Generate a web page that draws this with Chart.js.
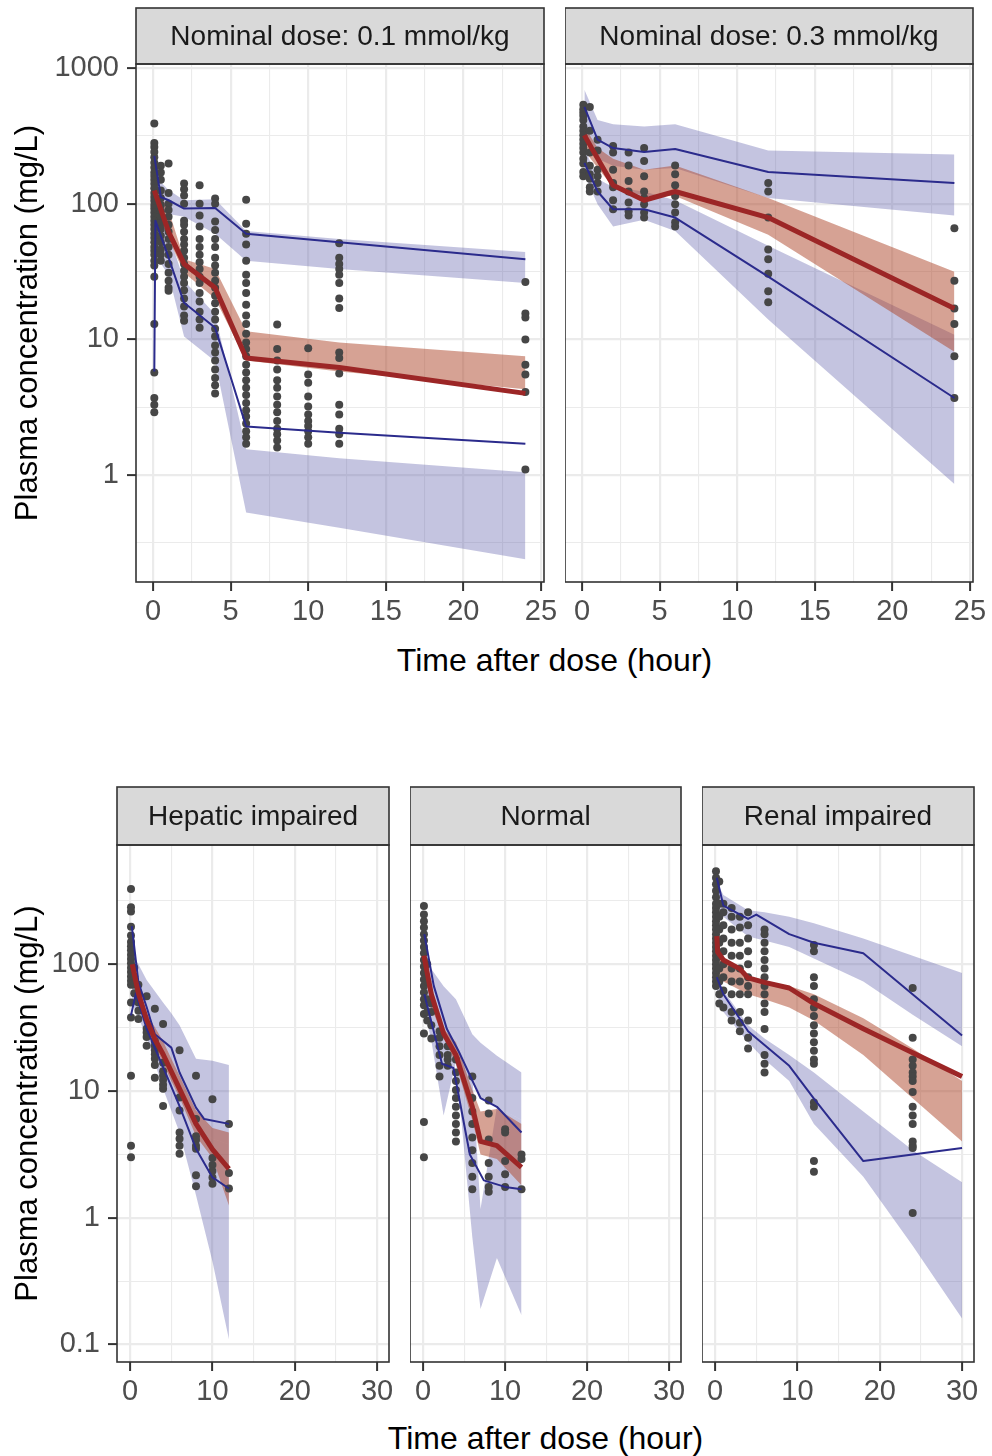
<!DOCTYPE html>
<html>
<head>
<meta charset="utf-8">
<title>VPC plasma concentration</title>
<script src="https://cdn.jsdelivr.net/npm/chart.js@4.4.1/dist/chart.umd.min.js"></script>
<style>
  html, body { margin: 0; padding: 0; background: #ffffff; }
  body { position: relative; width: 992px; height: 1456px; overflow: hidden; font-family: "Liberation Sans", Arial, sans-serif; }
  canvas { position: absolute; }
  .xtitle { position: absolute; text-align: center; font-size: 32px; line-height: 36px; color: #000; white-space: nowrap; }
</style>
</head>
<body>
<div class="xtitle" style="left:136px;width:837px;top:642px;">Time after dose (hour)</div>
<div class="xtitle" style="left:117px;width:857px;top:1420px;">Time after dose (hour)</div>
<script>
// ------------------- Axis ticks -------------------
const xTicksTop = [0, 2.5, 5, 7.5, 10, 12.5, 15, 17.5, 20, 22.5, 25];
const xMajorTop = [0, 5, 10, 15, 20, 25];
const yTicksTop = [0.316, 1, 3.16, 10, 31.6, 100, 316, 1000];
const yMajorTop = [1, 10, 100, 1000];

const xTicksBottom = [0, 5, 10, 15, 20, 25, 30];
const xMajorBottom = [0, 10, 20, 30];
const yTicksBottom = [0.1, 0.316, 1, 3.16, 10, 31.6, 100, 316];
const yMajorBottom = [0.1, 1, 10, 100];

// ------------------- Nominal dose 0.1 mmol/kg -------------------
const obsTimeA = [0.08, 0.5, 1, 2, 3, 4, 6, 8, 10, 12, 24];
const obsConcA = [
  [390, 280, 262, 240, 220, 200, 185, 170, 160, 150, 140, 130, 120, 112, 105, 98, 92, 86, 80, 75, 70, 65, 60, 56, 52, 48, 45, 42, 38, 35, 29, 13, 5.7, 3.7, 3.3, 2.9],
  [190, 170, 150, 125, 110, 98, 88, 80, 72, 65, 58, 52, 46, 42, 38],
  [198, 120, 100, 90, 80, 70, 62, 55, 48, 42, 36, 31, 27, 24, 22.8],
  [141, 128, 115, 100, 75, 70, 62, 55, 50, 45, 40, 36, 32, 29, 26, 23, 20, 17.5, 15, 13.7],
  [137, 100, 82, 68, 55, 48, 42, 37, 33, 29, 26, 22, 19, 16, 14, 12.2],
  [109, 100, 74, 64, 55, 48, 40, 35, 31, 27, 24, 21, 18.5, 16, 14, 12, 10.5, 9, 8, 7, 6, 5.2, 4.6, 4.0],
  [107, 71, 60, 50, 38, 30, 26, 22, 18, 15, 13, 11, 9.5, 8.5, 7.5, 6.5, 5.7, 5, 4.4, 3.9, 3.4, 3, 2.7, 2.4, 2.1, 1.9, 1.7],
  [12.9, 8.5, 7.0, 6.0, 5.0, 4.4, 3.8, 3.3, 2.9, 2.5, 2.2, 2.0, 1.8, 1.6],
  [8.6, 5.5, 4.8, 3.8, 3.2, 2.8, 2.5, 2.3, 2.1, 1.9, 1.7],
  [51, 40, 36, 33, 30, 26, 20, 17, 8.0, 7.3, 5.6, 3.3, 2.8, 2.2, 2.0, 1.7],
  [26.5, 15.5, 14.5, 10, 6.5, 5.5, 4.1, 1.1]
];
const hiTimeA = [0.08, 0.5, 1, 2, 4, 6, 12, 24];
const hiA = [225, 112, 106, 92, 93, 60, 52, 39];
const medTimeA = [0.08, 1, 2, 4, 6, 12, 24];
const medA = [125, 62, 36, 24, 7.3, 6.2, 4.0];
const loTimeA = [0.08, 0.15, 1, 2, 4, 6, 12, 24];
const loA = [5.8, 75, 40, 18.6, 12.2, 2.28, 2.05, 1.7];
const bandTimeA = [0.1, 1, 2, 4, 6, 12, 24];
const hiTopA = [160, 126, 106, 108, 63, 55, 44];
const hiBotA = [95, 84, 80, 60, 38, 33, 26];
const medTopA = [140, 90, 39, 33, 11.5, 9.5, 7.5];
const medBotA = [105, 55, 31, 20, 7.0, 5.8, 4.3];
const loTopA = [90, 60, 27, 15.3, 1.55, 1.33, 1.05];
const loBotA = [42, 30, 10.5, 6.9, 0.53, 0.41, 0.24];

// ------------------- Nominal dose 0.3 mmol/kg -------------------
const obsTimeB = [0.08, 0.5, 1, 2, 3, 4, 6, 12, 24];
const obsConcB = [
  [535, 497, 469, 445, 414, 371, 345, 320, 297, 276, 257, 238, 214, 198, 171, 159],
  [516, 345, 238, 190, 165, 153, 132, 123],
  [296, 247, 178, 159, 142, 123],
  [266, 238, 178, 142, 132, 106, 91],
  [238, 191, 147, 123, 102, 88, 82],
  [257, 206, 159, 123, 110, 99, 86, 79],
  [191, 165, 137, 114, 99, 86, 73, 68],
  [142, 123, 79, 46, 39, 30.5, 22.6, 18.8],
  [66, 27, 16.9, 13, 7.5, 3.7]
];
const hiTimeB = [0.15, 1, 2, 4, 6, 12, 24];
const hiB = [516, 296, 257, 240, 253, 171, 142];
const medTimeB = [0.15, 0.7, 2, 4, 6, 12, 24];
const medB = [320, 247, 137, 106, 123, 79, 16.9];
const loTimeB = [0.15, 1, 2, 4, 6, 12, 24];
const loB = [200, 123, 91, 91, 79, 29, 3.7];
const bandTimeB = [0.15, 1, 2, 4, 6, 12, 24];
const hiTopB = [692, 414, 385, 371, 385, 247, 230];
const hiBotB = [345, 214, 190, 178, 183, 110, 82];
const medTopB = [371, 257, 214, 178, 191, 110, 31.5];
const medBotB = [247, 184, 132, 114, 114, 59, 8.1];
const loTopB = [257, 153, 132, 123, 106, 49, 10.8];
const loBotB = [165, 99, 68, 76, 63, 14, 0.86];

// ------------------- Hepatic impaired -------------------
const obsTimeC = [0.1, 0.5, 1, 2, 3, 4, 6, 8, 10, 12];
const obsConcC = [
  [393, 282, 261, 198, 169, 150, 139, 129, 119, 110, 102, 94, 87, 80, 74, 69, 50, 38, 13.2, 3.7, 3.0],
  [94, 80, 69, 59],
  [69, 59, 54, 50, 43, 37],
  [56, 31, 29, 26.7, 22.8],
  [44.5, 24.7, 22.8, 21, 19.5, 18, 16, 12.7],
  [33.8, 16.7, 14.3, 13.2, 12.2, 11.2, 10.4, 7.6],
  [21, 8.9, 7.0, 4.7, 4.2, 3.7, 3.2],
  [13.2, 6.0, 4.4, 4.1, 3.7, 3.5, 2.16, 1.77],
  [8.6, 2.96, 2.6, 2.34, 2.08, 1.85],
  [5.5, 2.25, 1.7]
];
const hiTimeC = [0.2, 1, 2, 3, 5, 6, 8, 9, 12];
const hiC = [200, 72, 46, 28, 22, 14, 7.4, 6.0, 5.5];
const medTimeC = [0.25, 1, 2, 3, 4, 6, 8, 10, 12];
const medC = [100, 59, 36.6, 25.6, 19.5, 10.4, 5.5, 3.46, 2.43];
const loTimeC = [0.1, 0.7, 2, 4, 6, 8, 10, 12];
const loC = [39.5, 59, 31, 15.4, 7.6, 3.5, 2.08, 1.7];
const bandTimeC = [0.2, 1, 2, 4, 5, 6, 8, 10, 12];
const hiTopC = [125, 100, 75, 50, 41, 33, 18, 17.3, 16];
const hiBotC = [75, 52, 34, 20, 15, 10, 5.5, 4.2, 3.8];
const medTopC = [110, 66, 41, 24.7, 18, 13.2, 7.0, 5.1, 4.7];
const medBotC = [87, 52, 31, 16.6, 12, 8.9, 4.4, 2.96, 1.25];
const loTopC = [75, 52, 34, 20, 15, 10, 5.5, 4.2, 3.8];
const loBotC = [50, 38, 26.7, 10.4, 7, 4.7, 1.5, 0.45, 0.11];

// ------------------- Normal -------------------
const obsTimeD = [0.1, 0.5, 1, 2, 3, 4, 6, 8, 10, 12];
const obsConcD = [
  [289, 247, 219, 195, 173, 154, 137, 122, 108, 96, 85.5, 76, 67.5, 60, 53, 47.5, 40.5, 28.4, 5.7, 3.0],
  [100, 73, 53, 42, 36],
  [49, 42, 33, 26],
  [29.6, 26.3, 22.5, 19.2, 15.8, 13],
  [22.5, 19.2, 17.7, 15.8],
  [17.7, 14, 12, 10.2, 8.8, 7.5, 6.4, 5.5, 4.7, 4.0],
  [13, 8.8, 6.9, 5.5, 4.3, 3.4, 2.7, 2.1, 1.68],
  [8.4, 6.65, 4.15, 2.7, 2.1, 1.75, 1.6],
  [5.0, 4.7, 2.8, 2.2, 1.75],
  [3.15, 2.9, 1.68]
];
const hiTimeD = [0.15, 1.3, 2.9, 4.3, 7, 9, 12];
const hiD = [173, 67.5, 30.8, 20.8, 8.8, 7.5, 4.7];
const medTimeD = [0.1, 1, 2.5, 4, 6, 7, 9, 12];
const medD = [117, 58, 28.4, 19.2, 7.5, 4.0, 3.7, 2.5];
const loTimeD = [0.15, 2.3, 3.7, 5.7, 7.4, 10, 12];
const loD = [58, 16.4, 15.2, 3.15, 1.97, 1.75, 1.68];
const bandTimeD = [0.1, 1, 2.5, 4, 6, 7, 9, 12];
const hiTopD = [100, 92, 67, 53, 28, 24, 19, 14];
const hiBotD = [73, 58, 33, 26, 13, 8.8, 7.5, 5.9];
const medTopD = [127, 67.5, 31, 24.3, 10.2, 6.9, 7.2, 5.5];
const medBotD = [100, 45.6, 26.3, 16.4, 5.9, 3.15, 2.9, 1.8];
const loTopD = [73, 58, 33, 26, 13, 1.17, 7.5, 5.9];
const loBotD = [45, 25, 6.4, 17, 0.7, 0.19, 0.48, 0.17];

// ------------------- Renal impaired -------------------
const obsTimeE = [0.1, 0.5, 1, 2, 3, 4, 6, 12, 24];
const obsConcE = [
  [542, 482, 428, 380, 338, 301, 278, 257, 237, 219, 203, 188, 173, 160, 148, 137, 127, 117, 108, 100, 92.5, 85.5, 79, 73, 67.5],
  [450, 301, 237, 188, 148, 117, 92.5, 73, 58, 49],
  [301, 257, 203, 160, 127, 100, 79, 62, 45.6],
  [278, 237, 188, 148, 117, 92.5, 73, 58, 42, 36],
  [237, 195, 148, 117, 92.5, 73, 58, 42, 34.6, 29.6],
  [257, 203, 160, 127, 100, 79, 67.5, 58, 36, 26.3, 21.6],
  [188, 173, 148, 127, 108, 92.5, 79, 67.5, 58, 49, 42, 30.8, 19.2, 16.4, 14],
  [142, 127, 79, 67.5, 53, 45.6, 39, 33, 28.4, 24.3, 20.8, 17.7, 16.4, 8.1, 7.5, 2.8, 2.3],
  [65, 26.3, 17.7, 15.8, 14, 13, 12, 9.8, 7.5, 6.4, 5.5, 4.0, 3.7, 3.55, 1.09]
];
const hiTimeE = [0.2, 1, 4, 5, 9, 12, 18, 30];
const hiE = [482, 290, 228, 247, 173, 148, 122, 27.4];
const medTimeE = [0.2, 0.3, 1, 3, 4, 6, 9, 12, 18, 24, 30];
const medE = [167, 125, 108, 92, 78, 72, 65, 49, 31, 20, 13];
const loTimeE = [0.2, 1, 4, 9, 12, 18, 30];
const loE = [79, 58, 29.6, 15.8, 8.7, 2.8, 3.55];
const bandTimeE = [0.2, 1, 4, 6, 9, 12, 18, 24, 30];
const hiTopE = [445, 352, 267, 257, 237, 211, 160, 117, 85.5];
const hiBotE = [301, 237, 166, 154, 137, 111, 73, 40, 22.5];
const medTopE = [148, 108, 82, 73, 67.5, 58, 37.5, 21.6, 12];
const medBotE = [85.5, 73, 58, 53, 45.6, 36, 19.2, 8.75, 4.0];
const loTopE = [85, 62, 33, 26, 19.2, 14, 6.9, 3.4, 1.9];
const loBotE = [58, 42, 24.3, 17.7, 12, 5.5, 2.1, 0.6, 0.16];

// ------------------- Styles -------------------
const BLUE_FILL = "rgba(86, 86, 166, 0.35)";
const RED_FILL = "rgba(173, 69, 41, 0.5)";
const BLUE_LINE = "#2b2b8c";
const RED_LINE = "#9c2626";
const POINT_COLOR = "#464646";
const GRID_COLOR = "#ebebeb";
const FRAME_COLOR = "#333333";

Chart.defaults.font.family = '"Liberation Sans", Arial, Helvetica, sans-serif';

// strip on top of each panel + the panel border
const panelFrame = {
  id: "panelFrame",
  afterDraw(chart, args, opts) {
    const { ctx, chartArea: a } = chart;
    const w = a.right - a.left;
    ctx.save();
    ctx.fillStyle = "#d9d9d9";
    ctx.fillRect(a.left, a.top - opts.stripH, w, opts.stripH);
    ctx.strokeStyle = FRAME_COLOR;
    ctx.lineWidth = 1.6;
    ctx.strokeRect(a.left, a.top - opts.stripH, w, opts.stripH);
    ctx.strokeRect(a.left, a.top, w, a.bottom - a.top);
    ctx.fillStyle = "#1a1a1a";
    ctx.font = '28px "Liberation Sans", Arial, sans-serif';
    ctx.textAlign = "center";
    ctx.textBaseline = "middle";
    ctx.fillText(opts.label, a.left + w / 2, a.top - opts.stripH / 2 + 1);
    ctx.restore();
  }
};

// ------------------- Helper Functions -------------------
function xy(times, vals) {
  return times.map((t, i) => ({ x: t, y: vals[i] }));
}

function obsXY(times, groups) {
  const out = [];
  times.forEach((t, i) => groups[i].forEach((v) => out.push({ x: t, y: v })));
  return out;
}

function band(times, top, bot, color, order) {
  return [
    { data: xy(times, top), fill: "+1", backgroundColor: color, borderColor: "transparent", borderWidth: 0, pointRadius: 0, order: order },
    { data: xy(times, bot), fill: false, borderColor: "transparent", borderWidth: 0, pointRadius: 0, order: order }
  ];
}

function line(times, vals, color, width, order) {
  return { data: xy(times, vals), borderColor: color, borderWidth: width, pointRadius: 0, fill: false, tension: 0, borderJoinStyle: "round", order: order };
}

function buildSets(d) {
  return [
    ...band(d.bandT, d.hiTop, d.hiBot, BLUE_FILL, 6),
    ...band(d.bandT, d.loTop, d.loBot, BLUE_FILL, 5),
    ...band(d.bandT, d.medTop, d.medBot, RED_FILL, 4),
    { type: "scatter", data: obsXY(d.obsT, d.obsC), pointRadius: 4, pointBackgroundColor: POINT_COLOR, pointBorderWidth: 0, showLine: false, order: 3 },
    line(d.hiT, d.hi, BLUE_LINE, 2, 2),
    line(d.loT, d.lo, BLUE_LINE, 2, 2),
    line(d.medT, d.med, RED_LINE, 5, 1)
  ];
}

function renderPanel(p) {
  const xAxisH = 50;
  const padR = 18;
  const padT = p.row.stripH + 6;
  const canvas = document.createElement("canvas");
  const left = p.area.l - p.yW;
  const top = p.area.t - padT;
  canvas.width = p.area.r + padR - left;
  canvas.height = p.area.b + xAxisH - top;
  canvas.style.left = left + "px";
  canvas.style.top = top + "px";
  document.body.appendChild(canvas);

  const r = p.row;
  const showY = p.yW > 0;
  new Chart(canvas, {
    type: "line",
    data: { datasets: buildSets(p.d) },
    options: {
      responsive: false,
      animation: false,
      events: [],
      layout: { autoPadding: false, padding: { top: padT, right: padR, left: 0, bottom: 0 } },
      plugins: {
        legend: { display: false },
        tooltip: { enabled: false },
        panelFrame: { label: p.label, stripH: r.stripH }
      },
      scales: {
        x: {
          type: "linear",
          min: r.xMin,
          max: r.xMax,
          afterBuildTicks: (s) => { s.ticks = r.xTicks.map((v) => ({ value: v })); },
          afterFit: (s) => { s.height = xAxisH; },
          ticks: {
            autoSkip: false, maxRotation: 0, minRotation: 0, padding: 4,
            color: "#4d4d4d", font: { size: 29 },
            callback: (v) => (r.xMajor.includes(v) ? String(v) : "")
          },
          grid: {
            color: GRID_COLOR,
            lineWidth: (c) => (c.tick && r.xMajor.includes(c.tick.value) ? 2.2 : 1.1),
            tickLength: 9,
            tickWidth: 2,
            tickColor: (c) => (c.tick && r.xMajor.includes(c.tick.value) ? FRAME_COLOR : "rgba(0,0,0,0)")
          },
          border: { display: false }
        },
        y: {
          type: "logarithmic",
          min: r.yMin,
          max: r.yMax,
          afterBuildTicks: (s) => { s.ticks = r.yTicks.map((v) => ({ value: v })); },
          afterFit: (s) => { s.width = p.yW; },
          ticks: {
            display: showY, autoSkip: false, padding: 8,
            color: "#4d4d4d", font: { size: 29 },
            callback: (v) => (r.yMajor.includes(v) ? String(v) : "")
          },
          grid: {
            color: GRID_COLOR,
            lineWidth: (c) => (c.tick && r.yMajor.includes(c.tick.value) ? 2.2 : 1.1),
            drawTicks: showY,
            tickLength: 9,
            tickWidth: 2,
            tickColor: (c) => (c.tick && r.yMajor.includes(c.tick.value) ? FRAME_COLOR : "rgba(0,0,0,0)")
          },
          border: { display: false },
          title: {
            display: showY,
            text: "Plasma concentration (mg/L)",
            color: "#000000",
            font: { size: 31 },
            padding: { top: 10, bottom: 0 }
          }
        }
      }
    },
    plugins: [panelFrame]
  });
}

// ------------------- Layout of the two rows -------------------
const topRow = { stripH: 56, xMin: -1.1, xMax: 25.2, yMin: 0.163, yMax: 1070,
  xTicks: xTicksTop, xMajor: xMajorTop, yTicks: yTicksTop, yMajor: yMajorTop };
const bottomRow = { stripH: 58, xMin: -1.6, xMax: 31.45, yMin: 0.0726, yMax: 874,
  xTicks: xTicksBottom, xMajor: xMajorBottom, yTicks: yTicksBottom, yMajor: yMajorBottom };

const panels = [
  { label: "Nominal dose: 0.1 mmol/kg", row: topRow, yW: 136, area: { l: 136, t: 64, r: 544, b: 582 },
    d: { obsT: obsTimeA, obsC: obsConcA, hiT: hiTimeA, hi: hiA, medT: medTimeA, med: medA, loT: loTimeA, lo: loA,
         bandT: bandTimeA, hiTop: hiTopA, hiBot: hiBotA, medTop: medTopA, medBot: medBotA, loTop: loTopA, loBot: loBotA } },
  { label: "Nominal dose: 0.3 mmol/kg", row: topRow, yW: 0, area: { l: 565, t: 64, r: 973, b: 582 },
    d: { obsT: obsTimeB, obsC: obsConcB, hiT: hiTimeB, hi: hiB, medT: medTimeB, med: medB, loT: loTimeB, lo: loB,
         bandT: bandTimeB, hiTop: hiTopB, hiBot: hiBotB, medTop: medTopB, medBot: medBotB, loTop: loTopB, loBot: loBotB } },
  { label: "Hepatic impaired", row: bottomRow, yW: 117, area: { l: 117, t: 845, r: 389, b: 1362 },
    d: { obsT: obsTimeC, obsC: obsConcC, hiT: hiTimeC, hi: hiC, medT: medTimeC, med: medC, loT: loTimeC, lo: loC,
         bandT: bandTimeC, hiTop: hiTopC, hiBot: hiBotC, medTop: medTopC, medBot: medBotC, loTop: loTopC, loBot: loBotC } },
  { label: "Normal", row: bottomRow, yW: 0, area: { l: 410, t: 845, r: 681, b: 1362 },
    d: { obsT: obsTimeD, obsC: obsConcD, hiT: hiTimeD, hi: hiD, medT: medTimeD, med: medD, loT: loTimeD, lo: loD,
         bandT: bandTimeD, hiTop: hiTopD, hiBot: hiBotD, medTop: medTopD, medBot: medBotD, loTop: loTopD, loBot: loBotD } },
  { label: "Renal impaired", row: bottomRow, yW: 0, area: { l: 702, t: 845, r: 974, b: 1362 },
    d: { obsT: obsTimeE, obsC: obsConcE, hiT: hiTimeE, hi: hiE, medT: medTimeE, med: medE, loT: loTimeE, lo: loE,
         bandT: bandTimeE, hiTop: hiTopE, hiBot: hiBotE, medTop: medTopE, medBot: medBotE, loTop: loTopE, loBot: loBotE } }
];

panels.forEach(renderPanel);
</script>
</body>
</html>
